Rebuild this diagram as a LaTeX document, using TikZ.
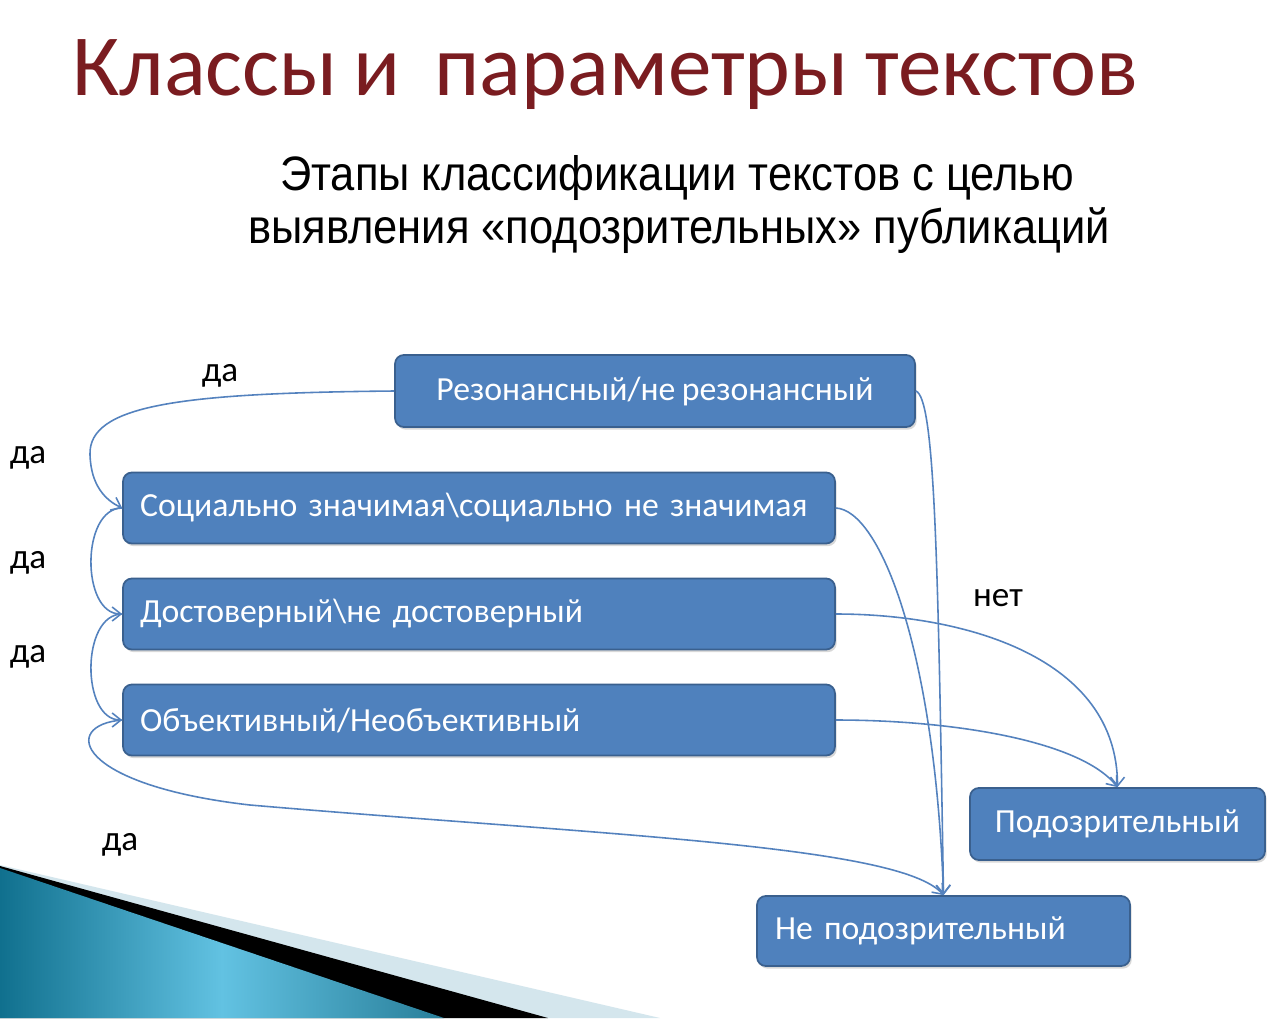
\documentclass[tikz,border=0pt]{standalone}
\usepackage{fontspec}
\setmainfont[WordSpace=0.85]{Carlito}
\newfontfamily\subfont[FakeStretch=0.9]{Liberation Sans}
\usetikzlibrary{arrows.meta,shadows}
\definecolor{boxblue}{RGB}{79,129,189}
\definecolor{boxedge}{RGB}{58,96,142}
\definecolor{linkblue}{RGB}{84,130,190}
\definecolor{titlered}{RGB}{122,28,32}
\definecolor{tealdark}{RGB}{16,112,142}
\definecolor{teallight}{RGB}{98,194,226}
\definecolor{stripe}{RGB}{212,230,237}
\tikzset{
	stage/.style={draw=boxedge, fill=boxblue, line width=1pt, rounded corners=5pt,
		text=white, font=\fontsize{19.2}{23}\selectfont,
		minimum height=1.42cm, inner xsep=0.34cm,
		drop shadow={shadow xshift=1pt, shadow yshift=-1.5pt, opacity=0.3}},
	leftstage/.style={stage, text width=13.56cm, align=left},
	link/.style={draw=linkblue, line width=0.9pt, -{Straight Barb[length=5pt,width=8pt]}},
	answer/.style={font=\fontsize{20}{24}\selectfont, text=black, inner sep=0pt}
}
\begin{document}
\begin{tikzpicture}[x=0.02cm, y=-0.02cm]
	\fill[white] (0,0) rectangle (1288,1018);
	\useasboundingbox (0,0) rectangle (1288,1018);
	% corner decoration
	\fill[stripe] (0,865) -- (660,1018) -- (0,1018) -- cycle;
	\fill[black] (0,866) -- (548,1018) -- (0,1018) -- cycle;
	\shade[left color=tealdark, right color=tealdark!90, middle color=teallight] (0,868) -- (444,1018) -- (0,1018) -- cycle;
	% headings
	\node[anchor=base west, inner sep=0pt, text=titlered, font=\fontsize{49.6}{56}\selectfont] (title) at (72,95) {Классы и \ параметры текстов};
	\node[anchor=base, inner sep=0pt, font=\subfont\fontsize{27.5}{32}\selectfont] (sub1) at (677,190) {Этапы классификации текстов с целью};
	\node[anchor=base, inner sep=0pt, font=\subfont\fontsize{27.5}{32}\selectfont] (sub2) at (679,243) {выявления «подозрительных» публикаций};
	% stages
	\node[stage, minimum width=10.4cm, minimum height=1.44cm] (rez) at (655,391) {Резонансный/не резонансный};
	\node[leftstage] (soc) at (479,508) {Социально значимая\textbackslash социально не значимая};
	\node[leftstage] (dost) at (479,614) {Достоверный\textbackslash не достоверный};
	\node[leftstage] (obj) at (479,720) {Объективный/Необъективный};
	\node[stage, minimum width=5.9cm, minimum height=1.44cm] (pod) at (1117.5,824) {Подозрительный};
	\node[stage, text width=6.74cm, align=left, inner xsep=0.36cm, minimum height=1.4cm] (nep) at (943.5,931) {Не подозрительный};
	% yes branches
	\draw[link] (rez.west) .. controls (180,393) and (88,405) .. (90,455) .. controls (91,485) and (105,500) .. (soc.west);
	\draw[link] (soc.west) to[out=180, in=180] (dost.west);
	\draw[link] (dost.west) to[out=180, in=180] (obj.west);
	\draw[link] (obj.west) .. controls (60,725) and (75,785) .. (250,805) .. controls (600,835) and (900,845) .. (nep.north);
	% no branches
	\draw[link] (rez.east) .. controls (935,398) and (938,560) .. (nep.north);
	\draw[link] (soc.east) .. controls (880,510) and (935,650) .. (nep.north);
	\draw[link] (dost.east) to[out=0, in=90] (pod.north);
	\draw[link] (obj.east) .. controls (950,720) and (1080,740) .. (pod.north);
	% labels
	\node[answer] (yes1) at (220,376) {да};
	\node[answer] (yes2) at (28,458) {да};
	\node[answer] (yes3) at (28,563) {да};
	\node[answer] (yes4) at (28,657) {да};
	\node[answer] (yes5) at (120,845) {да};
	\node[answer] (no1) at (998,598) {нет};
\end{tikzpicture}
\end{document}
